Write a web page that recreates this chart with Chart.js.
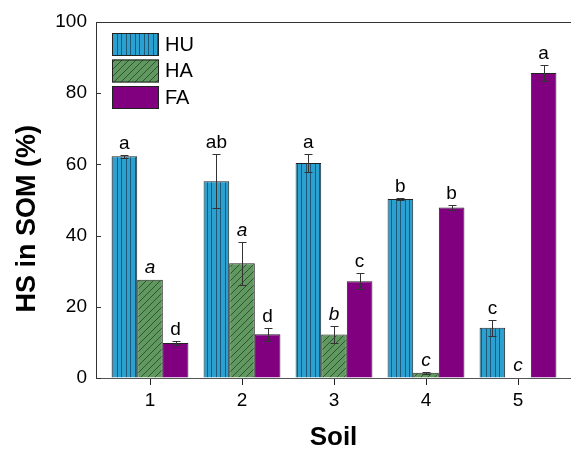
<!DOCTYPE html>
<html>
<head>
<meta charset="utf-8">
<script src="https://cdn.jsdelivr.net/npm/chart.js@4"></script>
<style>body{margin:0;background:#fff}</style>
</head>
<body>
<canvas id="myChart" width="571" height="449"></canvas>
<script>
const soils = [1, 2, 3, 4, 5];
const hu = [62.3, 55.3, 60.4, 50.3, 14.1];
const ha = [27.6, 32.2, 12.2, 1.5, 0];
const fa = [9.8, 12.3, 27.2, 47.9, 85.7];
const huErr = [0.4, 7.5, 2.5, 0.4, 2.2];
const haErr = [0, 6.1, 2.5, 0.3, 0];
const faErr = [0.5, 1.8, 2.2, 0.8, 2.2];
const huLetters = ['a', 'ab', 'a', 'b', 'c'];
const haLetters = ['a', 'a', 'b', 'c', 'c'];
const faLetters = ['d', 'd', 'c', 'b', 'a'];

const font = 'Arial, "Liberation Sans", sans-serif';

function stripes(bg, line) {
	const c = document.createElement('canvas');
	c.width = 9;
	c.height = 4;
	const g = c.getContext('2d');
	g.fillStyle = bg;
	g.fillRect(0, 0, 9, 4);
	g.fillStyle = line;
	g.fillRect(0, 0, 1, 4);
	g.fillRect(4, 0, 1, 4);
	return g.createPattern(c, 'repeat');
}

function hatch(bg, line) {
	const c = document.createElement('canvas');
	c.width = 7;
	c.height = 7;
	const g = c.getContext('2d');
	g.fillStyle = bg;
	g.fillRect(0, 0, 7, 7);
	g.strokeStyle = line;
	g.lineWidth = 0.8;
	g.beginPath();
	g.moveTo(-1, 8);
	g.lineTo(8, -1);
	g.stroke();
	return g.createPattern(c, 'repeat');
}

const huFill = stripes('#2aa1d0', '#1c5878');
const haFill = hatch('#5f995f', '#263f26');
const faFill = '#800080';

// подписи букв, усы ошибок, рамка сверху и легенда
const extras = {
	id: 'extras',
	afterDatasetsDraw(chart) {
		const { ctx, chartArea, scales: { y } } = chart;
		ctx.save();
		chart.data.datasets.forEach((ds, i) => {
			chart.getDatasetMeta(i).data.forEach((bar, j) => {
				const v = ds.data[j];
				const e = ds.errors[j];
				const x = Math.round(bar.x) + 0.5;
				let top = y.getPixelForValue(v);
				if (e > 0) {
					const y1 = Math.round(y.getPixelForValue(v + e)) + 0.5;
					const y2 = Math.round(y.getPixelForValue(v - e)) + 0.5;
					ctx.strokeStyle = '#333';
					ctx.lineWidth = 1;
					ctx.beginPath();
					ctx.moveTo(x, y1);
					ctx.lineTo(x, y2);
					ctx.moveTo(x - 4, y1);
					ctx.lineTo(x + 4, y1);
					ctx.moveTo(x - 4, y2);
					ctx.lineTo(x + 4, y2);
					ctx.stroke();
					top = y1;
				}
				ctx.fillStyle = '#000';
				ctx.font = (ds.italic ? 'italic ' : '') + '19px ' + font;
				ctx.textAlign = 'center';
				ctx.textBaseline = 'alphabetic';
				ctx.fillText(ds.letters[j], bar.x, top - 7);
			});
		});

		ctx.strokeStyle = '#333';
		ctx.lineWidth = 1;
		ctx.beginPath();
		ctx.moveTo(chartArea.left, chartArea.top + 0.5);
		ctx.lineTo(chart.width, chartArea.top + 0.5);
		y.ticks.forEach((t) => {
			const py = Math.round(y.getPixelForValue(t.value)) + 0.5;
			ctx.moveTo(chartArea.left, py);
			ctx.lineTo(chartArea.left + 5, py);
		});
		ctx.stroke();

		chart.data.datasets.forEach((ds, i) => {
			const bx = chartArea.left + 16;
			const by = chartArea.top + 11 + i * 26.5;
			ctx.fillStyle = ds.backgroundColor;
			ctx.fillRect(bx, by, 47, 23);
			ctx.strokeStyle = '#222';
			ctx.strokeRect(bx + 0.5, by + 0.5, 46, 22);
			ctx.fillStyle = '#000';
			ctx.font = '20px ' + font;
			ctx.textAlign = 'left';
			ctx.textBaseline = 'middle';
			ctx.fillText(ds.label, bx + 53, by + 12);
		});
		ctx.restore();
	},
};

new Chart(document.getElementById('myChart'), {
	type: 'bar',
	data: {
		labels: soils,
		datasets: [
			{ label: 'HU', data: hu, errors: huErr, letters: huLetters, backgroundColor: huFill },
			{ label: 'HA', data: ha, errors: haErr, letters: haLetters, italic: true, backgroundColor: haFill },
			{ label: 'FA', data: fa, errors: faErr, letters: faLetters, backgroundColor: faFill },
		],
	},
	options: {
		responsive: false,
		animation: false,
		layout: { padding: { top: 22, left: 0, right: 0, bottom: 0 } },
		datasets: {
			bar: {
				borderColor: '#222',
				borderWidth: (c) => (c.raw === 0 ? 0 : 1),
				categoryPercentage: 0.835,
				barPercentage: 1,
			},
		},
		plugins: {
			legend: { display: false },
			tooltip: { enabled: false },
		},
		scales: {
			x: {
				type: 'linear',
				offset: false,
				min: 0.413,
				max: 5.576,
				afterFit(s) {
					s.height = 71;
				},
				afterBuildTicks(s) {
					s.ticks = s.ticks.filter((t) => Number.isInteger(t.value));
				},
				ticks: {
					stepSize: 1,
					includeBounds: false,
					autoSkip: false,
					color: '#000',
					padding: 4,
					font: { family: font, size: 19 },
				},
				grid: { offset: false, drawOnChartArea: false, tickLength: 7, color: '#222' },
				border: { color: '#555' },
				title: {
					display: true,
					text: 'Soil',
					color: '#000',
					font: { family: font, size: 26, weight: 'bold', lineHeight: 0.88 },
					padding: 0,
				},
			},
			y: {
				min: 0,
				max: 100,
				afterFit(s) {
					s.width = 96;
				},
				ticks: {
					stepSize: 20,
					color: '#000',
					padding: 9,
					font: { family: font, size: 19 },
				},
				grid: { drawOnChartArea: false, drawTicks: false },
				border: { color: '#333' },
				title: {
					display: true,
					text: 'HS in SOM (%)     ',
					color: '#000',
					font: { family: font, size: 27, weight: 'bold' },
					padding: { top: 11, bottom: 0 },
				},
			},
		},
	},
	plugins: [extras],
});
</script>
</body>
</html>
